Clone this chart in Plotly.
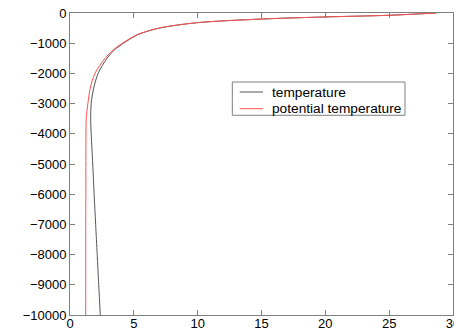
import plotly.graph_objects as go

depth = [0, -75, -130, -200, -320, -500, -720, -1000, -1215, -1500, -2000, -2500,
         -3000, -3500, -4000, -5000, -6000, -7000, -8000, -9000, -10000]
temperature = [28.7, 25.0, 20.0, 15.0, 10.0, 7.0, 5.3, 4.2, 3.5, 2.9, 2.2, 1.85,
               1.66, 1.62, 1.66, 1.78, 1.89, 2.01, 2.13, 2.25, 2.37]
potential_temperature = [28.7, 25.0, 20.0, 15.0, 9.95, 6.95, 5.25, 4.1, 3.4, 2.75, 1.95, 1.58,
                         1.40, 1.27, 1.25, 1.24, 1.24, 1.23, 1.23, 1.23, 1.23]
series_names = ["temperature", "potential temperature"]

x_ticks = [0, 5, 10, 15, 20, 25, 30]
y_ticks = [0, -1000, -2000, -3000, -4000, -5000, -6000, -7000, -8000, -9000, -10000]

colors = ["rgb(85,85,85)", "rgb(255,80,80)"]
FONT = "Liberation Sans, Arial"

fig = go.Figure()
for vals, name, col in zip([temperature, potential_temperature], series_names, colors):
    fig.add_trace(go.Scatter(x=vals, y=depth, mode="lines", name=name, showlegend=False,
                             line=dict(color=col, width=1, shape="spline", smoothing=0.8)))

axis_common = dict(showline=True, linecolor="rgb(128,128,128)", linewidth=1, mirror="ticks",
                   ticks="inside", ticklen=5, tickcolor="rgb(128,128,128)", showgrid=False,
                   zeroline=False, ticklabeloverflow="allow", automargin=False,
                   tickfont=dict(family=FONT, size=13, color="black"))

# legend drawn as a box, sample lines and text labels (MATLAB-style compact legend)
shapes = [dict(type="rect", xref="paper", yref="paper", x0=0.4238, x1=0.8747, y0=0.6613, y1=0.7715,
               line=dict(color="rgb(128,128,128)", width=1), fillcolor="white", layer="above")]
annotations = []
rows_y = [0.7384, 0.6831]
for name, col, ry in zip(series_names, colors, rows_y):
    shapes.append(dict(type="line", xref="paper", yref="paper", x0=0.4431, x1=0.5039, y0=ry, y1=ry,
                       line=dict(color=col, width=1), layer="above"))
    annotations.append(dict(xref="paper", yref="paper", x=0.5215, y=ry, xanchor="left", yanchor="middle",
                            text=name, showarrow=False, font=dict(family=FONT, size=13.7, color="black")))

fig.update_layout(
    width=454, height=332,
    margin=dict(l=70, r=1, t=13, b=17),
    paper_bgcolor="white", plot_bgcolor="white",
    xaxis=dict(range=[0, 30], tickvals=x_ticks, ticktext=[str(v) for v in x_ticks],
               ticklabelstandoff=-4, **axis_common),
    yaxis=dict(range=[-10000, 0], tickvals=y_ticks,
               ticktext=[("\u2212" + str(-v)) if v < 0 else str(v) for v in y_ticks], **axis_common),
    shapes=shapes,
    annotations=annotations,
    showlegend=False,
)

fig.write_html("out.html")
